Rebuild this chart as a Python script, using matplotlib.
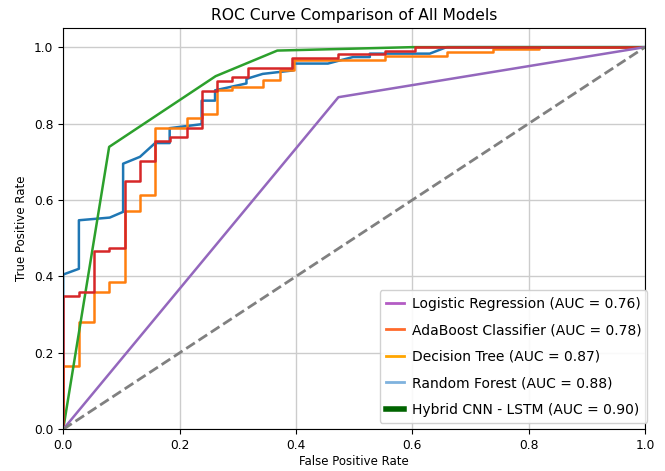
import matplotlib.pyplot as plt
from matplotlib.lines import Line2D

# ROC points (fpr, tpr)
lr_fpr = [0.0, 0.473, 1.0]
lr_tpr = [0.0, 0.869, 1.0]

rf_fpr = [0.0, 0.0, 0.027, 0.027, 0.080, 0.103, 0.103, 0.132, 0.158, 0.183, 0.183, 0.236,
          0.238, 0.238, 0.261, 0.261, 0.315, 0.315, 0.343, 0.395, 0.395, 0.455, 0.475,
          0.498, 0.527, 0.527, 0.630, 0.659, 1.0]
rf_tpr = [0.0, 0.405, 0.420, 0.547, 0.554, 0.569, 0.695, 0.713, 0.749, 0.749, 0.788, 0.798,
          0.798, 0.860, 0.860, 0.887, 0.905, 0.917, 0.930, 0.939, 0.957, 0.957, 0.965,
          0.974, 0.974, 0.983, 0.983, 1.0, 1.0]

ada_fpr = [0.0, 0.0, 0.027, 0.027, 0.053, 0.053, 0.079, 0.079, 0.106, 0.106, 0.132, 0.132,
           0.158, 0.158, 0.183, 0.183, 0.212, 0.212, 0.238, 0.238, 0.264, 0.264, 0.290, 0.290,
           0.318, 0.318, 0.394, 0.394, 0.473, 0.473, 0.553, 0.553, 0.605, 0.605, 1.0]
ada_tpr = [0.0, 0.350, 0.350, 0.360, 0.360, 0.467, 0.467, 0.475, 0.475, 0.649, 0.649, 0.701,
           0.701, 0.754, 0.754, 0.765, 0.765, 0.788, 0.788, 0.885, 0.885, 0.911, 0.911, 0.922,
           0.922, 0.945, 0.945, 0.972, 0.972, 0.983, 0.983, 0.991, 0.991, 1.0, 1.0]

dt_fpr = [0.0, 0.0, 0.027, 0.027, 0.053, 0.053, 0.079, 0.079, 0.106, 0.106, 0.132, 0.132,
          0.158, 0.158, 0.212, 0.212, 0.238, 0.238, 0.264, 0.264, 0.290, 0.290, 0.343, 0.343,
          0.372, 0.372, 0.396, 0.396, 0.553, 0.553, 0.659, 0.659, 0.739, 0.739, 0.817, 0.817, 1.0]
dt_tpr = [0.0, 0.165, 0.165, 0.281, 0.281, 0.360, 0.360, 0.386, 0.386, 0.571, 0.571, 0.614,
          0.614, 0.789, 0.789, 0.814, 0.814, 0.826, 0.826, 0.887, 0.887, 0.895, 0.895, 0.913,
          0.913, 0.940, 0.940, 0.967, 0.967, 0.976, 0.976, 0.987, 0.987, 0.996, 0.996, 1.0, 1.0]

cnn_fpr = [0.0, 0.079, 0.262, 0.368, 0.601, 1.0]
cnn_tpr = [0.0, 0.739, 0.924, 0.991, 1.0, 1.0]

legend_labels = ["Logistic Regression (AUC = 0.76)",
                 "AdaBoost Classifier (AUC = 0.78)",
                 "Decision Tree (AUC = 0.87)",
                 "Random Forest (AUC = 0.88)",
                 "Hybrid CNN - LSTM (AUC = 0.90)"]
legend_colors = ["#b35cc4", "#ff6a2b", "#ffa500", "#7fb2de", "#006400"]
legend_widths = [2, 2, 2, 2, 4]

fig = plt.figure(figsize=(6.65, 4.71), dpi=100)
ax = fig.add_axes([0.095, 0.0885, 0.875, 0.852])

ax.plot(rf_fpr, rf_tpr, color="tab:blue", lw=1.8)
ax.plot(dt_fpr, dt_tpr, color="tab:orange", lw=1.8)
ax.plot(cnn_fpr, cnn_tpr, color="tab:green", lw=1.8)
ax.plot(ada_fpr, ada_tpr, color="tab:red", lw=1.8)
ax.plot(lr_fpr, lr_tpr, color="tab:purple", lw=1.8)
ax.plot([0, 1], [0, 1], color="gray", ls="--", lw=2)

ax.set_xlim(0, 1)
ax.set_ylim(0, 1.05)
ax.set_xticks([0, 0.2, 0.4, 0.6, 0.8, 1.0])
ax.set_yticks([0, 0.2, 0.4, 0.6, 0.8, 1.0])
ax.tick_params(labelsize=8.8)
ax.grid(True, color="#cccccc", lw=1)
ax.set_axisbelow(True)

ax.set_xlabel("False Positive Rate", fontsize=8.5, labelpad=2)
ax.set_ylabel("True Positive Rate", fontsize=8.5, labelpad=4)
ax.set_title("ROC Curve Comparison of All Models", fontsize=11.2, pad=6)

handles = [Line2D([0], [0], color=c, lw=w) for c, w in zip(legend_colors, legend_widths)]
ax.legend(handles, legend_labels, loc="lower right", bbox_to_anchor=(1.004, 0.016),
          fontsize=10, handlelength=1.3, handletextpad=0.55, borderpad=0.45,
          labelspacing=0.9, borderaxespad=0, framealpha=0.9)

fig.savefig("out.png", dpi=100)
